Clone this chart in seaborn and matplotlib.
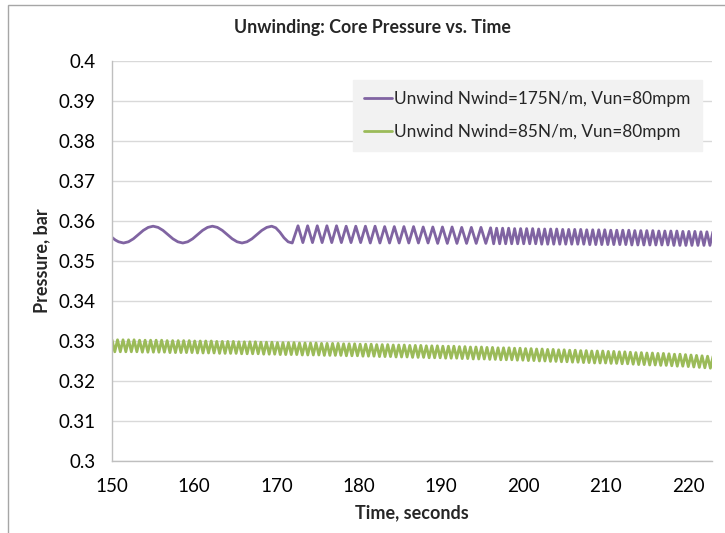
import numpy as np
import pandas as pd
import matplotlib
matplotlib.use("Agg")
import matplotlib.pyplot as plt
from matplotlib.lines import Line2D
from matplotlib.patches import Rectangle
import seaborn as sns

TITLE = "Unwinding: Core Pressure vs. Time"
X_LABEL = "Time, seconds"
Y_LABEL = "Pressure, bar"
SERIES_HI = "Unwind Nwind=175N/m, Vun=80mpm"
SERIES_LO = "Unwind Nwind=85N/m, Vun=80mpm"

X_TICKS = [150, 160, 170, 180, 190, 200, 210, 220]
Y_TICKS = [0.30, 0.31, 0.32, 0.33, 0.34, 0.35, 0.36, 0.37, 0.38, 0.39, 0.40]

# --- 175 N/m: slow swing before the fast oscillation sets in ---
hi_slow_t = [150.0, 150.4, 150.8, 151.4, 152.0, 152.6, 153.2, 153.8, 154.4, 155.0,
             155.6, 156.2, 156.8, 157.4, 158.0, 158.6, 159.2, 159.8, 160.4, 161.0,
             161.6, 162.2, 162.8, 163.4, 164.0, 164.6, 165.2, 165.8, 166.4, 167.0,
             167.6, 168.2, 168.8, 169.4, 169.9, 170.4, 170.9, 171.4, 171.9]
hi_slow_p = [0.3559, 0.35525, 0.3548, 0.3545, 0.3548, 0.35555, 0.3566, 0.35765, 0.3584, 0.3587,
             0.3584, 0.35765, 0.3566, 0.35555, 0.3548, 0.3545, 0.3548, 0.35555, 0.3566, 0.35765,
             0.3584, 0.3587, 0.3584, 0.35765, 0.3566, 0.35555, 0.3548, 0.3545, 0.3548, 0.35555,
             0.3566, 0.35765, 0.3584, 0.3587, 0.3583, 0.3572, 0.3558, 0.3548, 0.3545]

# --- 175 N/m: peaks and troughs of the fast oscillation ---
hi_peak_t = [172.60, 173.77, 174.94, 176.11, 177.28, 178.45, 179.62, 180.79, 181.96, 183.13,
             184.30, 185.47, 186.64, 187.81, 188.98, 190.15, 191.32, 192.49, 193.66, 194.83,
             196.00,
             196.73, 197.46, 198.19, 198.92, 199.65, 200.38, 201.11, 201.84, 202.57, 203.30,
             204.03, 204.76, 205.49, 206.22, 206.95, 207.68, 208.41, 209.14, 209.87, 210.60,
             211.33, 212.06, 212.79, 213.52, 214.25, 214.98, 215.71, 216.44, 217.17, 217.90,
             218.63, 219.36, 220.09, 220.82, 221.55, 222.28, 223.01]
hi_peak_p = [0.3588, 0.3588, 0.3588, 0.3588, 0.3588, 0.3587, 0.3587, 0.3587, 0.3587, 0.3586,
             0.3586, 0.3586, 0.3586, 0.3585, 0.3585, 0.3585, 0.3585, 0.3584, 0.3584, 0.3584,
             0.3583,
             0.3582, 0.3582, 0.3582, 0.3581, 0.3581, 0.3581, 0.3581, 0.3580, 0.3580, 0.3580,
             0.3580, 0.3579, 0.3579, 0.3579, 0.3579, 0.3578, 0.3578, 0.3578, 0.3578, 0.3577,
             0.3577, 0.3577, 0.3577, 0.3576, 0.3576, 0.3576, 0.3576, 0.3575, 0.3575, 0.3575,
             0.3575, 0.3574, 0.3574, 0.3574, 0.3573, 0.3573, 0.3573]
hi_trough_t = [173.19, 174.36, 175.53, 176.70, 177.87, 179.04, 180.21, 181.38, 182.55, 183.72,
               184.89, 186.06, 187.23, 188.40, 189.57, 190.74, 191.91, 193.08, 194.25, 195.42,
               196.37, 197.10, 197.83, 198.56, 199.29, 200.02, 200.75, 201.48, 202.21, 202.94,
               203.67, 204.40, 205.13, 205.86, 206.59, 207.32, 208.05, 208.78, 209.51, 210.24,
               210.97, 211.70, 212.43, 213.16, 213.89, 214.62, 215.35, 216.08, 216.81, 217.54,
               218.27, 219.00, 219.73, 220.46, 221.19, 221.92, 222.65]
hi_trough_p = [0.3546, 0.3546, 0.3546, 0.3546, 0.3546, 0.3546, 0.3546, 0.3545, 0.3545, 0.3545,
               0.3545, 0.3545, 0.3545, 0.3545, 0.3544, 0.3544, 0.3544, 0.3544, 0.3544, 0.3544,
               0.3543, 0.3543, 0.3543, 0.3543, 0.3543, 0.3543, 0.3543, 0.3543, 0.3542, 0.3542,
               0.3542, 0.3542, 0.3542, 0.3542, 0.3542, 0.3542, 0.3541, 0.3541, 0.3541, 0.3541,
               0.3541, 0.3541, 0.3541, 0.3540, 0.3540, 0.3540, 0.3540, 0.3540, 0.3540, 0.3540,
               0.3539, 0.3539, 0.3539, 0.3539, 0.3539, 0.3539, 0.3539]

# --- 85 N/m: peaks and troughs ---
lo_peak_t = [150.00, 150.67, 151.34, 152.01, 152.68, 153.35, 154.02, 154.69, 155.36, 156.03,
             156.70, 157.37, 158.04, 158.71, 159.38, 160.05, 160.72, 161.39, 162.06, 162.73,
             163.40, 164.07, 164.74, 165.41, 166.08, 166.75, 167.42, 168.09, 168.76, 169.43,
             170.10, 170.77, 171.44, 172.11, 172.78, 173.45, 174.12, 174.79, 175.46, 176.13,
             176.80, 177.47, 178.14, 178.81, 179.48, 180.15, 180.82, 181.49, 182.16, 182.83,
             183.50, 184.17, 184.84, 185.51, 186.18, 186.85, 187.52, 188.19, 188.86, 189.53,
             190.20, 190.87, 191.54, 192.21, 192.88, 193.55, 194.22, 194.89, 195.56, 196.23,
             196.90, 197.57, 198.24, 198.91, 199.58, 200.25, 200.92, 201.59, 202.26, 202.93,
             203.60, 204.27, 204.94, 205.61, 206.28, 206.95, 207.62, 208.29, 208.96, 209.63,
             210.30, 210.97, 211.64, 212.31, 212.98, 213.65, 214.32, 214.99, 215.66, 216.33,
             217.00, 217.67, 218.34, 219.01, 219.68, 220.35, 221.02, 221.69, 222.36, 223.03]
lo_peak_p = [0.3303, 0.3303, 0.3303, 0.3303, 0.3303, 0.3302, 0.3302, 0.3302, 0.3302, 0.3302,
             0.3301, 0.3301, 0.3301, 0.3301, 0.3301, 0.3300, 0.3300, 0.3300, 0.3300, 0.3299,
             0.3299, 0.3299, 0.3299, 0.3298, 0.3298, 0.3298, 0.3298, 0.3297, 0.3297, 0.3297,
             0.3296, 0.3296, 0.3296, 0.3296, 0.3295, 0.3295, 0.3295, 0.3295, 0.3294, 0.3294,
             0.3294, 0.3294, 0.3293, 0.3293, 0.3293, 0.3292, 0.3292, 0.3292, 0.3291, 0.3291,
             0.3291, 0.3290, 0.3290, 0.3290, 0.3289, 0.3289, 0.3289, 0.3288, 0.3288, 0.3288,
             0.3287, 0.3287, 0.3287, 0.3286, 0.3286, 0.3285, 0.3285, 0.3285, 0.3284, 0.3284,
             0.3283, 0.3283, 0.3283, 0.3282, 0.3282, 0.3281, 0.3281, 0.3280, 0.3280, 0.3279,
             0.3279, 0.3278, 0.3278, 0.3277, 0.3277, 0.3276, 0.3276, 0.3275, 0.3275, 0.3275,
             0.3274, 0.3274, 0.3273, 0.3273, 0.3272, 0.3271, 0.3271, 0.3270, 0.3270, 0.3269,
             0.3269, 0.3268, 0.3267, 0.3267, 0.3266, 0.3265, 0.3264, 0.3263, 0.3262, 0.3262]
lo_trough_t = [150.34, 151.01, 151.68, 152.35, 153.02, 153.69, 154.36, 155.03, 155.70, 156.37,
               157.04, 157.71, 158.38, 159.05, 159.72, 160.39, 161.06, 161.73, 162.40, 163.07,
               163.74, 164.41, 165.08, 165.75, 166.42, 167.09, 167.76, 168.43, 169.10, 169.77,
               170.44, 171.11, 171.78, 172.45, 173.12, 173.79, 174.46, 175.13, 175.80, 176.47,
               177.14, 177.81, 178.48, 179.15, 179.82, 180.49, 181.16, 181.83, 182.50, 183.17,
               183.84, 184.51, 185.18, 185.85, 186.52, 187.19, 187.86, 188.53, 189.20, 189.87,
               190.54, 191.21, 191.88, 192.55, 193.22, 193.89, 194.56, 195.23, 195.90, 196.57,
               197.24, 197.91, 198.58, 199.25, 199.92, 200.59, 201.26, 201.93, 202.60, 203.27,
               203.94, 204.61, 205.28, 205.95, 206.62, 207.29, 207.96, 208.63, 209.30, 209.97,
               210.64, 211.31, 211.98, 212.65, 213.32, 213.99, 214.66, 215.33, 216.00, 216.67,
               217.34, 218.01, 218.68, 219.35, 220.02, 220.69, 221.36, 222.03, 222.70]
lo_trough_p = [0.3273, 0.3273, 0.3273, 0.3273, 0.3273, 0.3272, 0.3272, 0.3272, 0.3272, 0.3272,
               0.3271, 0.3271, 0.3271, 0.3271, 0.3271, 0.3270, 0.3270, 0.3270, 0.3270, 0.3269,
               0.3269, 0.3269, 0.3269, 0.3268, 0.3268, 0.3268, 0.3268, 0.3267, 0.3267, 0.3267,
               0.3266, 0.3266, 0.3266, 0.3266, 0.3265, 0.3265, 0.3265, 0.3265, 0.3264, 0.3264,
               0.3264, 0.3264, 0.3263, 0.3263, 0.3263, 0.3262, 0.3262, 0.3262, 0.3261, 0.3261,
               0.3261, 0.3260, 0.3260, 0.3260, 0.3259, 0.3259, 0.3259, 0.3258, 0.3258, 0.3258,
               0.3257, 0.3257, 0.3257, 0.3256, 0.3256, 0.3255, 0.3255, 0.3255, 0.3254, 0.3254,
               0.3253, 0.3253, 0.3253, 0.3252, 0.3252, 0.3251, 0.3251, 0.3250, 0.3250, 0.3249,
               0.3249, 0.3248, 0.3248, 0.3247, 0.3247, 0.3246, 0.3246, 0.3245, 0.3245, 0.3245,
               0.3244, 0.3244, 0.3243, 0.3243, 0.3242, 0.3241, 0.3241, 0.3240, 0.3240, 0.3239,
               0.3239, 0.3238, 0.3237, 0.3237, 0.3236, 0.3235, 0.3234, 0.3233, 0.3232]

PURPLE = "#8064a2"
GREEN = "#9bbb59"
GRID = "#d9d9d9"
AXIS = "#bfbfbf"
TEXT = "#000000"
FONT = ["Lato", "DejaVu Sans"]


def series_frame(name, times, values):
    df = pd.DataFrame({"Time": times, "Pressure": values})
    df = df.sort_values("Time").reset_index(drop=True)
    df["Series"] = name
    return df


hi_df = series_frame(SERIES_HI,
                     hi_slow_t + hi_peak_t + hi_trough_t,
                     hi_slow_p + hi_peak_p + hi_trough_p)
lo_df = series_frame(SERIES_LO, lo_peak_t + lo_trough_t, lo_peak_p + lo_trough_p)
data = pd.concat([hi_df, lo_df], ignore_index=True)

sns.set_style("white")
plt.rcParams["font.family"] = FONT

fig = plt.figure(figsize=(7.25, 5.33), dpi=100)
ax = fig.add_axes([112 / 725, 1 - 461 / 533, 600 / 725, 400 / 533])

# outer chart frame
fig.patches.append(Rectangle((8 / 725, -0.1), 1.2, 1 - 5 / 533 + 0.1,
                             transform=fig.transFigure, fill=False,
                             edgecolor="#a6a6a6", linewidth=1.0))

for y in Y_TICKS:
    ax.axhline(y, color=GRID, linewidth=1.0, zorder=0)

sns.lineplot(data=data, x="Time", y="Pressure", hue="Series",
             palette={SERIES_HI: PURPLE, SERIES_LO: GREEN},
             estimator=None, sort=False, linewidth=2.0, ax=ax, legend=False)

ax.set_xlim(150, 222.9)
ax.set_ylim(0.30, 0.40)
ax.set_xticks(X_TICKS)
ax.set_yticks(Y_TICKS)
ax.set_xticklabels([str(v) for v in X_TICKS])
ax.set_yticklabels([f"{v:g}" for v in Y_TICKS])
ax.tick_params(axis="both", length=0, labelsize=13.5, colors=TEXT)
ax.tick_params(axis="y", pad=12)
ax.tick_params(axis="x", pad=12)

for side in ("top", "right"):
    ax.spines[side].set_visible(False)
for side in ("left", "bottom"):
    ax.spines[side].set_color(AXIS)
    ax.spines[side].set_linewidth(1.0)

ax.set_xlabel(X_LABEL, fontsize=13, fontweight="bold", labelpad=7)
ax.set_ylabel(Y_LABEL, fontsize=13, fontweight="bold", labelpad=6)
fig.text(372 / 725, 1 - 27 / 533, TITLE, ha="center", va="center",
         fontsize=12.8, fontweight="bold")

handles = [Line2D([0], [0], color=PURPLE, linewidth=2.0),
           Line2D([0], [0], color=GREEN, linewidth=2.0)]
leg = ax.legend(handles, [SERIES_HI, SERIES_LO], loc="upper right",
                bbox_to_anchor=(0.983, 0.9525), borderaxespad=0,
                frameon=True, fancybox=False, fontsize=12.4,
                handlelength=1.6, handletextpad=0.15, labelspacing=0.95,
                borderpad=0.65)
leg.get_frame().set_facecolor("#f2f2f2")
leg.get_frame().set_edgecolor("#f2f2f2")
leg.get_frame().set_alpha(1.0)

fig.savefig("out.png", dpi=100)
